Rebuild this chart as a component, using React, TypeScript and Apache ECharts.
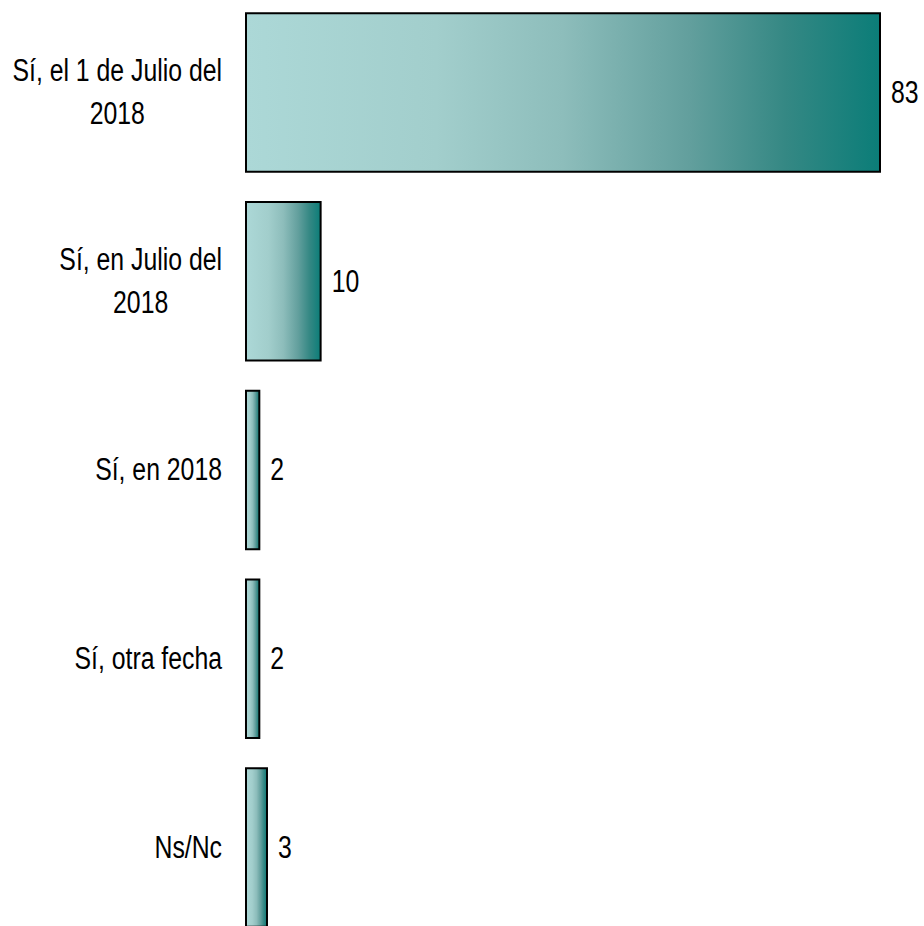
import React, { useEffect, useRef } from "react";
import * as echarts from "echarts";

const categories = [
  "Sí, el 1 de Julio del\n2018",
  "Sí, en Julio del\n2018",
  "Sí, en 2018",
  "Sí, otra fecha",
  "Ns/Nc",
];
const values = [83, 10, 2, 2, 3];

const FONT_FAMILY = "'Liberation Sans', Arial, sans-serif";
const FONT_SIZE = 31;
const SCALE_X = 0.8;

export default function App() {
  const ref = useRef<HTMLDivElement>(null);
  useEffect(() => {
    if (!ref.current) return;
    const chart = echarts.init(ref.current, null, { renderer: "svg" });
    const gradient = new echarts.graphic.LinearGradient(0, 0, 1, 0, [
      { offset: 0, color: "#acd8d7" },
      { offset: 0.3, color: "#a2cecc" },
      { offset: 0.5, color: "#8dbdbb" },
      { offset: 0.7, color: "#629f9d" },
      { offset: 0.85, color: "#358884" },
      { offset: 1, color: "#0b7d78" },
    ]);
    const labelData = values.map((v, i) => [v, i]);
    chart.setOption({
      animation: false,
      backgroundColor: "#ffffff",
      grid: {
        left: 245,
        width: 636,
        top: -2,
        height: 944,
        containLabel: false,
        outerBoundsMode: "none",
      },
      xAxis: { type: "value", min: 0, max: 83, show: false },
      yAxis: {
        type: "category",
        data: categories,
        inverse: true,
        axisLine: { show: false },
        axisTick: { show: false },
        axisLabel: { show: false },
      },
      series: [
        {
          type: "bar",
          data: values,
          barCategoryGap: "15%",
          itemStyle: {
            color: gradient,
            borderColor: "#000000",
            borderWidth: 2,
          },
        },
        {
          type: "custom",
          data: labelData,
          encode: { x: 0, y: 1 },
          clip: false,
          silent: true,
          z: 5,
          renderItem: (params: any, api: any) => {
            const v = api.value(0);
            const idx = api.value(1);
            const base = api.coord([0, idx]);
            const end = api.coord([v, idx]);
            const lines = categories[idx].split("\n");
            const catText = lines.map((l) => "{a|" + l + "}").join("\n");
            return {
              type: "group",
              children: [
                {
                  type: "text",
                  x: base[0] - 23,
                  y: base[1],
                  scaleX: SCALE_X,
                  style: {
                    text: catText,
                    align: "right",
                    verticalAlign: "middle",
                    rich: {
                      a: {
                        fontFamily: FONT_FAMILY,
                        fontSize: FONT_SIZE,
                        lineHeight: 43,
                        fill: "#000000",
                        align: "center",
                      },
                    },
                  },
                },
                {
                  type: "text",
                  x: end[0] + 10,
                  y: end[1],
                  scaleX: SCALE_X,
                  style: {
                    text: String(v),
                    align: "left",
                    verticalAlign: "middle",
                    fontFamily: FONT_FAMILY,
                    fontSize: FONT_SIZE,
                    fill: "#000000",
                  },
                },
              ],
            };
          },
        },
      ],
    });
    return () => chart.dispose();
  }, []);
  return (
    <div
      ref={ref}
      style={{ position: "fixed", left: 0, top: 0, width: 924, height: 926, background: "#fff" }}
    />
  );
}
